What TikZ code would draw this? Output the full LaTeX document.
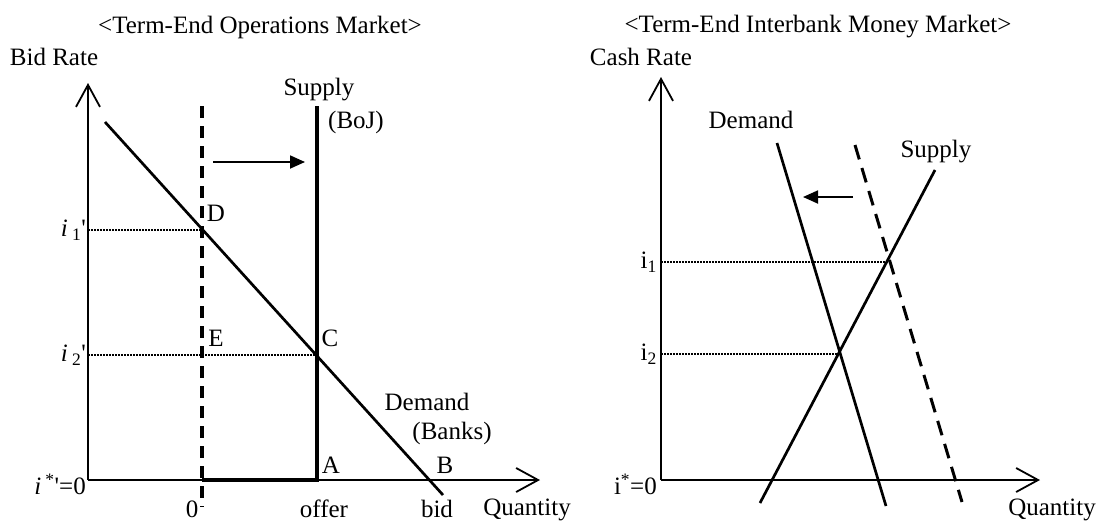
\documentclass[tikz,border=0pt]{standalone}
\usepackage{fontspec}
\setmainfont{Liberation Serif}
\usetikzlibrary{arrows.meta,positioning}

\begin{document}
\begin{tikzpicture}[
  x=1pt, y=-1pt,
  every node/.style={font=\fontsize{25}{30}\selectfont, inner sep=0pt},
  axis/.style={line width=1.8pt, -{Straight Barb[length=22pt, width=24pt]}},
  curve/.style={line width=2.7pt},
  thickline/.style={line width=4pt, line join=miter},
  oldline/.style={line width=4.2pt, dash pattern=on 12pt off 8pt},
  oldcurve/.style={line width=3pt, dash pattern=on 15pt off 9pt},
  level/.style={line width=2pt, dash pattern=on 1.8pt off 1.2pt},
  movearrow/.style={line width=1.8pt, -{Triangle[length=15pt, width=13pt]}}
]
\useasboundingbox (0,0) rectangle (1097,523);

\node (title1) at (260,27) {\textless Term-End Operations Market\textgreater};
\node (bidrate) at (54,57) {Bid Rate};
\coordinate (O1) at (88,480);
\coordinate (Y1) at (88,83);
\coordinate (X1) at (540,480);
\coordinate (dtop) at (105,122);
\coordinate (dend) at (443,495);
\coordinate (stop) at (317,106);
\coordinate (sbot) at (317,480);
\coordinate (zero) at (202,480);
\coordinate (otop) at (202,106);
\coordinate (obot) at (202,507);
\coordinate (D) at (202,230);
\coordinate (C) at (317,355);
\coordinate (i1l) at (88,230);
\coordinate (i2l) at (88,355);
\coordinate (mfrom) at (213,162);
\coordinate (mto) at (305,162);

\draw[axis] (O1) -- (Y1);
\draw[axis] (O1) -- (X1);
\draw[level] (i1l) -- (D);
\draw[level] (i2l) -- (C);
\draw[oldline] (otop) -- (obot);
\draw[thickline] (stop) -- (sbot) -- (zero);
\draw[curve] (dtop) -- (dend);
\draw[movearrow] (mfrom) -- (mto);

\node[anchor=east] (li1) at (86,230) {\textit{i}\,\textsubscript{1}\textquotesingle};
\node[anchor=east] (li2) at (86,355) {\textit{i}\,\textsubscript{2}\textquotesingle};
\node[anchor=east] (listar) at (86,484) {\textit{i}\,\textsuperscript{*}\textquotesingle=0};
\node (supply1) at (319,90) {Supply};
\node (boj) at (356,122) {(BoJ)};
\node (lD) at (216,213) {D};
\node (lE) at (216,338) {E};
\node (lC) at (330,338) {C};
\node (demand1) at (427,402) {Demand};
\node (banks) at (452,433) {(Banks)};
\node (lA) at (331,465) {A};
\node (lB) at (445,465) {B};
\node (lzero) at (192,509) {0};
\node (offer) at (324,509) {offer};
\node (bid) at (437,509) {bid};
\node (qty1) at (527,510) {Quantity};

\node (title2) at (818,27) {\textless Term-End Interbank Money Market\textgreater};
\node (cashrate) at (641,57) {Cash Rate};
\coordinate (O2) at (661,480);
\coordinate (Y2) at (661,77);
\coordinate (X2) at (1040,480);
\coordinate (ntop) at (777,143);
\coordinate (nend) at (886,506);
\coordinate (odtop) at (855,145);
\coordinate (odend) at (962,502);
\coordinate (sutop) at (935,170);
\coordinate (subot) at (760,503);
\coordinate (E1) at (888,262);
\coordinate (E2) at (839,354);
\coordinate (i1r) at (661,262);
\coordinate (i2r) at (661,354);
\coordinate (nfrom) at (853,197);
\coordinate (nto) at (803,197);

\draw[axis] (O2) -- (Y2);
\draw[axis] (O2) -- (X2);
\draw[level] (i1r) -- (E1);
\draw[level] (i2r) -- (E2);
\draw[curve] (ntop) -- (nend);
\draw[oldcurve] (odtop) -- (odend);
\draw[curve] (subot) -- (sutop);
\draw[movearrow] (nfrom) -- (nto);

\node[anchor=east] (ri1) at (657,262) {i\textsubscript{1}};
\node[anchor=east] (ri2) at (657,354) {i\textsubscript{2}};
\node[anchor=east] (ristar) at (657,484) {i\textsuperscript{*}=0};
\node (demand2) at (751,120) {Demand};
\node (supply2) at (936,152) {Supply};
\node (qty2) at (1052,510) {Quantity};
\end{tikzpicture}
\end{document}
